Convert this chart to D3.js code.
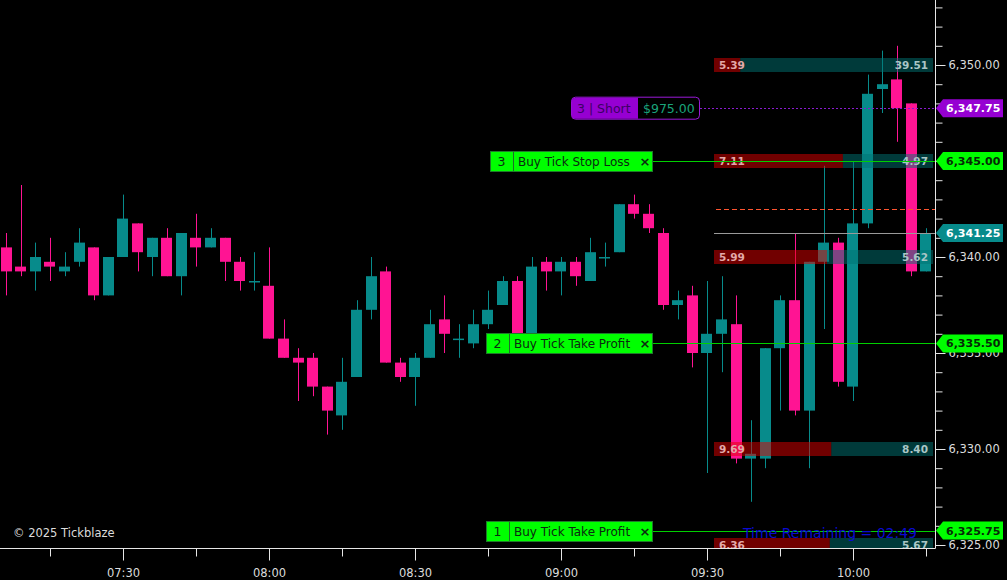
<!DOCTYPE html>
<html><head><meta charset="utf-8">
<script src="https://cdn.jsdelivr.net/npm/d3@7"></script>
<style>html,body{margin:0;padding:0;background:#000;overflow:hidden}svg{display:block}</style>
</head><body>
<svg id="chart" width="1007" height="580"></svg>
<script>
// ---- data ----
const startTime = "07:06";
const barMinutes = 3;
const opens  = [6340.5,6339.5,6339.25,6339.75,6339.25,6339.75,6340.5,6338.0,6340.0,6341.75,6340.0,6341.0,6339.0,6341.0,6340.5,6341.0,6339.75,6338.75,6338.5,6335.75,6334.75,6334.75,6333.25,6331.75,6333.75,6337.25,6339.25,6334.5,6333.75,6334.75,6336.75,6335.75,6335.5,6336.5,6337.5,6338.75,6335.5,6339.75,6339.25,6339.75,6338.75,6340.0,6340.25,6342.75,6342.25,6341.25,6337.5,6338.0,6335.0,6336.0,6336.5,6329.5,6329.5,6335.25,6337.75,6332.0,6339.75,6340.75,6333.25,6341.75,6348.75,6349.25,6348.0,6339.25];
const highs  = [6341.25,6343.75,6340.75,6341.0,6340.25,6341.5,6340.5,6340.0,6343.25,6341.75,6341.0,6341.5,6341.25,6342.25,6341.5,6341.0,6340.0,6340.25,6340.5,6336.75,6335.25,6335.0,6333.25,6334.75,6337.75,6340.0,6339.5,6334.75,6335.0,6337.25,6338.0,6336.5,6337.25,6338.25,6339.0,6339.0,6340.0,6340.0,6340.0,6340.0,6341.0,6340.75,6342.75,6343.25,6342.75,6341.5,6338.25,6338.5,6338.75,6339.0,6338.0,6331.5,6335.25,6338.0,6341.25,6339.75,6344.75,6341.0,6345.0,6349.5,6350.75,6351.0,6348.0,6341.5];
const lows   = [6338.0,6339.0,6338.25,6338.75,6339.0,6339.5,6337.75,6338.0,6340.0,6339.25,6339.0,6339.0,6338.0,6339.5,6340.5,6338.75,6338.25,6338.25,6335.75,6334.75,6332.5,6332.75,6330.75,6331.0,6333.75,6336.75,6334.5,6333.5,6332.25,6334.75,6335.0,6334.75,6335.25,6336.25,6337.5,6335.5,6335.25,6338.25,6338.0,6338.5,6338.75,6339.5,6340.25,6342.0,6341.25,6337.25,6336.75,6334.25,6328.75,6334.0,6329.25,6327.25,6329.0,6332.0,6331.75,6329.0,6336.25,6333.25,6332.5,6341.5,6347.5,6346.0,6339.0,6339.25];
const closes = [6339.25,6339.25,6340.0,6339.5,6339.5,6340.75,6338.0,6340.0,6342.0,6340.25,6341.0,6339.0,6341.25,6340.5,6341.0,6339.75,6338.75,6338.75,6335.75,6334.75,6334.5,6333.25,6332.0,6333.5,6337.25,6339.0,6334.5,6333.75,6334.75,6336.5,6336.0,6335.75,6336.5,6337.25,6338.75,6335.75,6339.5,6339.25,6339.75,6339.0,6340.25,6340.0,6342.75,6342.25,6341.5,6337.5,6337.75,6335.0,6336.0,6336.75,6329.5,6329.75,6335.25,6337.75,6332.0,6339.75,6340.75,6333.5,6341.75,6348.5,6349.0,6347.75,6339.25,6341.25];

const rowPrices = [6350, 6345, 6340, 6330, 6325];
const rowSell   = [5.39, 7.11, 5.99, 9.69, 6.36];
const rowBuy    = [39.51, 4.97, 5.62, 8.40, 5.67];

const priceTicksMajor = [6325, 6330, 6335, 6340, 6345, 6350];
const lastPrice = 6341.25;
const avgLevel = 6342.5;
const positionPrice = 6347.75;
const positionText = "3 | Short";
const positionPnl = "$975.00";
const orderNums   = ["3", "2", "1"];
const orderTexts  = ["Buy Tick Stop Loss", "Buy Tick Take Profit", "Buy Tick Take Profit"];
const orderPrices = [6345.00, 6335.50, 6325.75];
const copyright = "\u00A9 2025 Tickblaze";
const timeRemaining = "Time Remaining = 02:49";

// ---- setup ----
const W = 1007, H = 580, axisX = 935, axisY = 548;
const svg = d3.select("#chart");
svg.append("rect").attr("width", W).attr("height", H).attr("fill", "#000");
const FONT = "DejaVu Sans, Verdana, sans-serif";
const TEAL = "#078b8b", PINK = "#ff1493";

const parse = d3.timeParse("%H:%M");
const x = d3.scaleTime().domain([parse("07:00"), parse("10:30")]).range([-23, 999]);
const y = d3.scaleLinear().domain([6325, 6350]).range([545, 65]);
const t0 = parse(startTime);
const bars = opens.map((o, i) => ({t: d3.timeMinute.offset(t0, i * barMinutes), o, h: highs[i], l: lows[i], c: closes[i]}));
const bw = (x(d3.timeMinute.offset(t0, barMinutes)) - x(t0)) * 0.76;

svg.append("defs").append("clipPath").attr("id", "plot")
  .append("rect").attr("x", 0).attr("y", 0).attr("width", axisX).attr("height", axisY);
const plot = svg.append("g").attr("clip-path", "url(#plot)");

// candles
const cg = plot.append("g");
cg.selectAll("line.wick").data(bars).join("line")
  .attr("x1", d => Math.round(x(d.t)) + 0.5).attr("x2", d => Math.round(x(d.t)) + 0.5)
  .attr("y1", d => y(d.h)).attr("y2", d => y(d.l))
  .attr("stroke", d => d.c >= d.o ? TEAL : PINK).attr("stroke-width", 1);
cg.selectAll("rect.body").data(bars).join("rect")
  .attr("x", d => Math.round(x(d.t) - bw / 2)).attr("width", Math.round(bw))
  .attr("y", d => y(Math.max(d.o, d.c)))
  .attr("height", d => Math.max(1.5, Math.abs(y(d.o) - y(d.c))))
  .attr("fill", d => d.c >= d.o ? TEAL : PINK);

// volume rows
const rx = d3.scaleLinear().domain([0, 1]).range([714, 933]);
const rows = rowPrices.map((p, i) => ({p, s: rowSell[i], b: rowBuy[i]}));
const rg = plot.append("g");
rows.forEach(r => {
  const f = r.s / (r.s + r.b);
  const yc = y(r.p);
  rg.append("rect").attr("x", rx(0)).attr("y", yc - 7).attr("width", rx(f) - rx(0)).attr("height", 14)
    .attr("fill", "rgb(225,0,0)").attr("fill-opacity", 0.5);
  rg.append("rect").attr("x", rx(f)).attr("y", yc - 7).attr("width", rx(1) - rx(f)).attr("height", 14)
    .attr("fill", "rgb(0,115,115)").attr("fill-opacity", 0.5);
  rg.append("text").attr("x", rx(0) + 5).attr("y", yc + 4).text(r.s.toFixed(2))
    .attr("font-family", FONT).attr("font-weight", "bold").attr("font-size", 10.5).attr("fill", "#e3a9a9");
  rg.append("text").attr("x", rx(1) - 5).attr("y", yc + 4).attr("text-anchor", "end").text(r.b.toFixed(2))
    .attr("font-family", FONT).attr("font-weight", "bold").attr("font-size", 10.5).attr("fill", "#a9c6c6");
});

// horizontal lines
const hl = plot.append("g").attr("shape-rendering", "crispEdges");
hl.append("line").attr("x1", 716).attr("x2", axisX).attr("y1", Math.round(y(avgLevel)) + 0.5).attr("y2", Math.round(y(avgLevel)) + 0.5)
  .attr("stroke", "#ff5530").attr("stroke-width", 1).attr("stroke-dasharray", "5,3");
hl.append("line").attr("x1", 714).attr("x2", axisX).attr("y1", Math.round(y(lastPrice)) + 0.5).attr("y2", Math.round(y(lastPrice)) + 0.5)
  .attr("stroke", "#9a9a9a");
hl.append("line").attr("x1", 700).attr("x2", axisX).attr("y1", Math.round(y(positionPrice)) + 0.5).attr("y2", Math.round(y(positionPrice)) + 0.5)
  .attr("stroke", "#8a1ad0").attr("stroke-dasharray", "2,2");
orderPrices.forEach(p => {
  hl.append("line").attr("x1", 653).attr("x2", axisX).attr("y1", Math.round(y(p)) + 0.5).attr("y2", Math.round(y(p)) + 0.5)
    .attr("stroke", "#00d000").attr("stroke-width", 1);
});

// position label
{
  const yc = y(positionPrice);
  const g = svg.append("g");
  g.append("rect").attr("x", 571.5).attr("y", yc - 11).attr("width", 128).attr("height", 22).attr("rx", 4)
    .attr("fill", "#000").attr("stroke", "#9a1ad8");
  g.append("path").attr("d", `M${638},${yc - 10.5} H${575.5} a4,4 0 0 0 -4,4 V${yc + 6.5} a4,4 0 0 0 4,4 H${638} Z`)
    .attr("fill", "#9600d2");
  g.append("text").attr("x", 577).attr("y", yc).attr("dy", "0.36em").text(positionText)
    .attr("font-family", FONT).attr("font-size", 12.5).attr("fill", "#3c0064");
  g.append("text").attr("x", 643).attr("y", yc).attr("dy", "0.36em").text(positionPnl)
    .attr("font-family", FONT).attr("font-size", 12.5).attr("fill", "#1aa37a");
}

// order labels
const boxX = [490, 486, 486];
orderPrices.forEach((p, i) => {
  const yc = Math.round(y(p));
  const x0 = boxX[i], x1 = 653, div = x0 + 23;
  const g = svg.append("g");
  g.append("rect").attr("x", x0 + 0.5).attr("y", yc - 9.5).attr("width", x1 - x0 - 1).attr("height", 20)
    .attr("fill", "#00ff00").attr("stroke", "#1f7a2a");
  g.append("line").attr("x1", div + 0.5).attr("x2", div + 0.5).attr("y1", yc - 9).attr("y2", yc + 10).attr("stroke", "#1f6a2a");
  g.append("text").attr("x", x0 + 11.5).attr("y", yc).attr("dy", "0.4em").attr("text-anchor", "middle").text(orderNums[i])
    .attr("font-family", FONT).attr("font-size", 12.5).attr("fill", "#0b2a10");
  g.append("text").attr("x", div + 5).attr("y", yc).attr("dy", "0.4em").text(orderTexts[i])
    .attr("font-family", FONT).attr("font-size", 12).attr("fill", "#0b2a10");
  g.append("text").attr("x", 645).attr("y", yc).attr("dy", "0.38em").attr("text-anchor", "middle").text("\u00D7")
    .attr("font-family", FONT).attr("font-weight", "bold").attr("font-size", 13).attr("fill", "#0b2a10");
});

// axes
const axisColor = "#e6e6e6";
svg.append("line").attr("x1", axisX + 0.5).attr("x2", axisX + 0.5).attr("y1", 0).attr("y2", axisY + 0.5).attr("stroke", axisColor);
svg.append("line").attr("x1", 0).attr("x2", axisX + 0.5).attr("y1", axisY + 0.5).attr("y2", axisY + 0.5).attr("stroke", axisColor);

const minorY = d3.range(6325, 6354, 1);
const yMinor = svg.append("g").attr("transform", `translate(${axisX + 0.5},0)`)
  .call(d3.axisRight(y).tickValues(minorY).tickSize(7).tickSizeOuter(0).tickFormat(""));
const yMajor = svg.append("g").attr("transform", `translate(${axisX + 0.5},0)`)
  .call(d3.axisRight(y).tickValues(priceTicksMajor).tickSize(10).tickPadding(3).tickSizeOuter(0).tickFormat(d3.format(",.2f")));

const xTicks = d3.timeMinute.every(15).range(parse("07:00"), parse("10:31")).filter(t => x(t) >= 0 && x(t) <= axisX);
const xMajorTicks = xTicks.filter(t => t.getMinutes() % 30 === 0);
const xMinor = svg.append("g").attr("transform", `translate(0,${axisY + 0.5})`)
  .call(d3.axisBottom(x).tickValues(xTicks).tickSize(8).tickSizeOuter(0).tickFormat(""));
const xMajor = svg.append("g").attr("transform", `translate(0,${axisY + 0.5})`)
  .call(d3.axisBottom(x).tickValues(xMajorTicks).tickSize(12).tickPadding(8).tickSizeOuter(0).tickFormat(d3.timeFormat("%H:%M")));

[yMinor, yMajor, xMinor, xMajor].forEach(g => {
  g.select(".domain").remove();
  g.selectAll("line").attr("stroke", axisColor);
  g.selectAll("text").attr("fill", "#dcdcdc").attr("font-family", FONT).attr("font-size", 11.5);
});

// price tags on axis
function tag(p, fill, textFill) {
  const yc = y(p);
  const g = svg.append("g");
  g.append("path").attr("d", `M936,${yc} L943,${yc - 9} H1003 V${yc + 9} H943 Z`).attr("fill", fill);
  g.append("text").attr("x", 946).attr("y", yc).attr("dy", "0.37em").text(d3.format(",.2f")(p))
    .attr("font-family", FONT).attr("font-weight", "bold").attr("font-size", 11).attr("fill", textFill);
}
tag(positionPrice, "#9600d2", "#ffffff");
orderPrices.forEach(p => tag(p, "#00ff00", "#062a06"));
tag(lastPrice, "#078b8b", "#ffffff");

// texts
svg.append("text").attr("x", 13).attr("y", 537).text(copyright)
  .attr("font-family", FONT).attr("font-size", 11.5).attr("fill", "#dcdcdc");
svg.append("text").attr("x", 743).attr("y", 538).text(timeRemaining)
  .attr("font-family", FONT).attr("font-size", 14).attr("fill", "#0a0ad2");
</script>
</body></html>
